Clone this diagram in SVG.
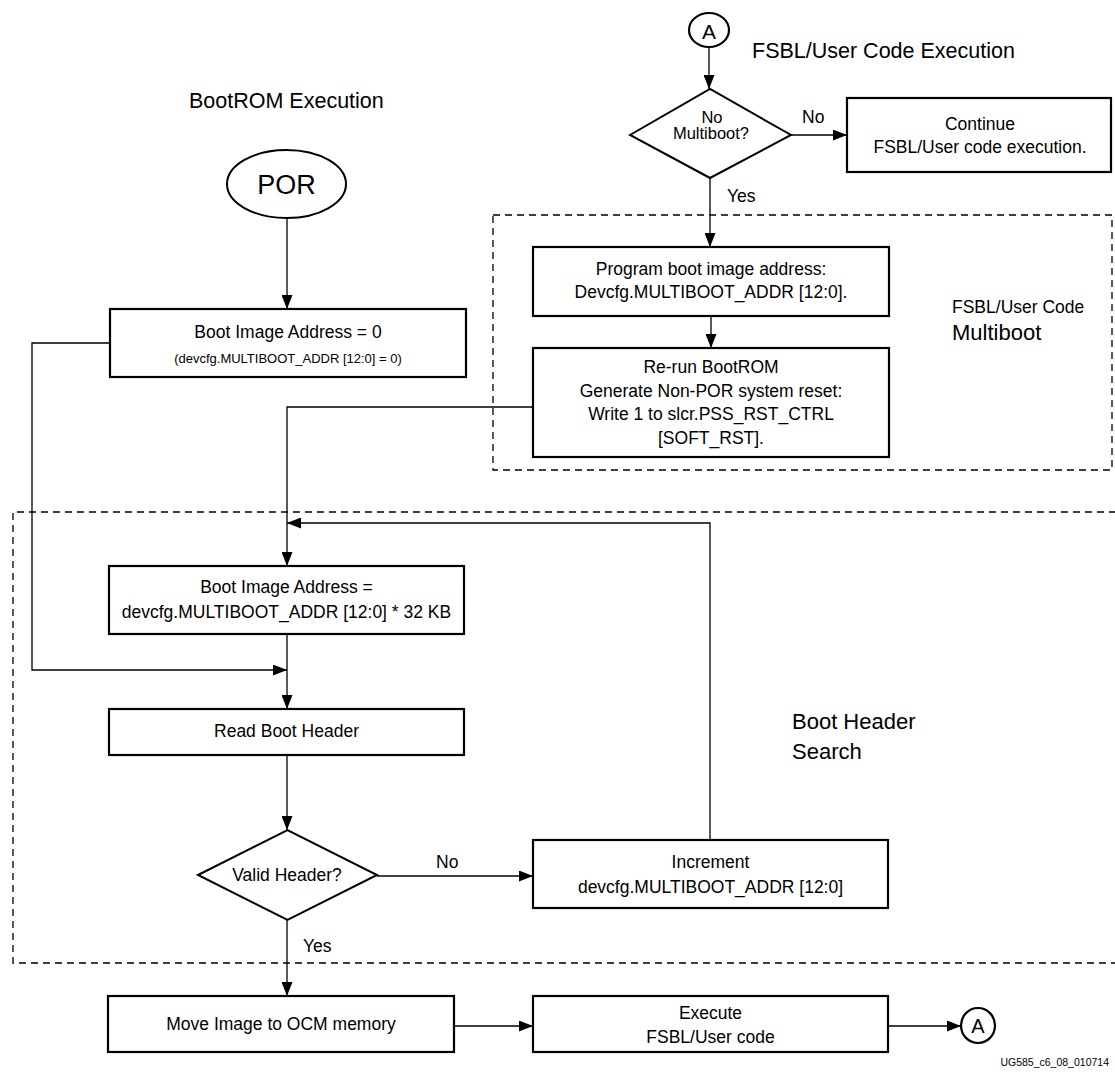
<svg xmlns="http://www.w3.org/2000/svg" width="1115" height="1072" viewBox="0 0 1115 1072">
<style>
text{font-family:"Liberation Sans",Arial,Helvetica,sans-serif;fill:#000}
.t{font-size:17.5px;text-anchor:middle}
.lbl{font-size:17.5px}
.big{font-size:21.5px}
.box{fill:#fff;stroke:#000;stroke-width:2.2}
.dec{fill:#fff;stroke:#000;stroke-width:2}
.ln{fill:none;stroke:#000;stroke-width:1.3}
.arr{fill:none;stroke:#000;stroke-width:1.3;marker-end:url(#ah)}
.dash{fill:none;stroke:#000;stroke-width:1.3;stroke-dasharray:7,5}
</style>
<defs>
<marker id="ah" markerUnits="userSpaceOnUse" markerWidth="14" markerHeight="11" refX="14" refY="5.5" orient="auto">
<path d="M0,0 L14,5.5 L0,11 z" fill="#000"/>
</marker>
</defs>
<rect width="1115" height="1072" fill="#fff"/>

<g id="regions">
<rect class="dash" x="493" y="215" width="619" height="255"/>
<path class="dash" d="M1116,512 H13 V963 H1116"/>
<text class="big" x="189" y="108">BootROM Execution</text>
<text class="big" x="752" y="58">FSBL/User Code Execution</text>
<text class="lbl" x="952" y="313">FSBL/User Code</text>
<text x="952" y="340" font-size="22">Multiboot</text>
<text x="792" y="729" font-size="22">Boot Header</text>
<text x="792" y="759" font-size="22">Search</text>
<text x="1109" y="1066" font-size="10.5" text-anchor="end">UG585_c6_08_010714</text>
</g>

<g id="connectors">
<line class="arr" x1="709" y1="47" x2="709" y2="89"/>
<line class="arr" x1="791" y1="135" x2="847" y2="135"/>
<line class="arr" x1="710" y1="178" x2="710" y2="247"/>
<line class="arr" x1="711" y1="316" x2="711" y2="348"/>
<line class="arr" x1="287" y1="218" x2="287" y2="309"/>
<path class="arr" d="M110,343 H32 V670 H287"/>
<path class="arr" d="M533,407 H287 V566"/>
<path class="arr" d="M710,840 V523 H287"/>
<line class="arr" x1="287" y1="634" x2="287" y2="709"/>
<line class="arr" x1="287" y1="755" x2="287" y2="830"/>
<line class="arr" x1="377" y1="876" x2="533" y2="876"/>
<line class="arr" x1="287" y1="920" x2="287" y2="996"/>
<line class="arr" x1="454" y1="1026" x2="533" y2="1026"/>
<line class="arr" x1="888" y1="1026" x2="961" y2="1026"/>
<text class="lbl" x="802" y="123">No</text>
<text class="lbl" x="727" y="202">Yes</text>
<text class="lbl" x="436" y="868">No</text>
<text class="lbl" x="303" y="952">Yes</text>
</g>

<g id="connA_top">
<ellipse class="box" cx="709" cy="30" rx="20" ry="17" stroke-width="1.6"/>
<text x="709" y="39" font-size="21" text-anchor="middle">A</text>
</g>

<g id="decision_multiboot">
<polygon class="dec" points="630,135 710,89 791,135 710,178"/>
<text x="712" y="123" font-size="16.5" text-anchor="middle">No</text>
<text x="711" y="139" font-size="16.5" text-anchor="middle">Multiboot?</text>
</g>

<g id="continue">
<rect class="box" x="847" y="98" width="264" height="74"/>
<text class="t" x="980" y="130">Continue</text>
<text class="t" x="980" y="153">FSBL/User code execution.</text>
</g>

<g id="program">
<rect class="box" x="533" y="247" width="356" height="69"/>
<text class="t" x="711" y="275">Program boot image address:</text>
<text class="t" x="711" y="298">Devcfg.MULTIBOOT_ADDR [12:0].</text>
</g>

<g id="rerun">
<rect class="box" x="533" y="348" width="356" height="109"/>
<text class="t" x="711" y="373">Re-run BootROM</text>
<text class="t" x="711" y="396.5">Generate Non-POR system reset:</text>
<text class="t" x="711" y="420">Write 1 to slcr.PSS_RST_CTRL</text>
<text class="t" x="711" y="444">[SOFT_RST].</text>
</g>

<g id="por">
<ellipse class="dec" cx="286.5" cy="184" rx="59.5" ry="34"/>
<text x="286.5" y="194" font-size="27" text-anchor="middle">POR</text>
</g>

<g id="addr0">
<rect class="box" x="110" y="309" width="356" height="68"/>
<text class="t" x="288" y="338">Boot Image Address = 0</text>
<text x="288" y="363" font-size="13" text-anchor="middle">(devcfg.MULTIBOOT_ADDR [12:0] = 0)</text>
</g>

<g id="addr32">
<rect class="box" x="109" y="566" width="355" height="68"/>
<text class="t" x="286.5" y="593">Boot Image Address =</text>
<text class="t" x="286.5" y="618">devcfg.MULTIBOOT_ADDR [12:0] * 32 KB</text>
</g>

<g id="readheader">
<rect class="box" x="109" y="709" width="355" height="46"/>
<text class="t" x="286.5" y="737">Read Boot Header</text>
</g>

<g id="validheader">
<polygon class="dec" points="198,875 287.5,830 377,875 287.5,920"/>
<text class="t" x="287" y="881">Valid Header?</text>
</g>

<g id="increment">
<rect class="box" x="533" y="840" width="355" height="68"/>
<text class="t" x="710.5" y="868">Increment</text>
<text class="t" x="710.5" y="893">devcfg.MULTIBOOT_ADDR [12:0]</text>
</g>

<g id="moveimage">
<rect class="box" x="108" y="996" width="346" height="56"/>
<text class="t" x="281" y="1030">Move Image to OCM memory</text>
</g>

<g id="execute">
<rect class="box" x="533" y="996" width="355" height="56"/>
<text class="t" x="710.5" y="1019">Execute</text>
<text class="t" x="710.5" y="1043">FSBL/User code</text>
</g>

<g id="connA_bottom">
<ellipse class="box" cx="978" cy="1025.5" rx="17" ry="17.5" stroke-width="1.6"/>
<text x="978" y="1033" font-size="20" text-anchor="middle">A</text>
</g>
</svg>
